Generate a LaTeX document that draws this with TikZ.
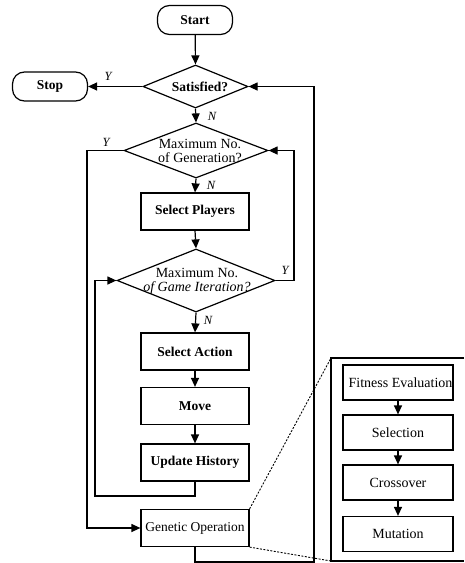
\documentclass[tikz,border=0pt]{standalone}
\usepackage{fontspec}
\setmainfont{Liberation Serif}
\usetikzlibrary{shapes.geometric,arrows.meta}
\begin{document}
\begin{tikzpicture}[x=1pt,y=-1pt,
  line width=1.2pt,
  font=\fontsize{14}{14}\selectfont,
  arr/.style={-{Triangle[length=9pt,width=8pt]}},
  term/.style={draw,rounded corners=12pt,minimum width=75pt,minimum height=29pt,inner sep=0pt,font=\fontsize{13.5}{14}\selectfont\bfseries},
  proc/.style={draw,minimum width=108pt,minimum height=37pt,inner sep=0pt,font=\fontsize{13.5}{14}\selectfont\bfseries},
  sub/.style={draw,minimum width=110pt,minimum height=35pt,inner sep=0pt},
  dia/.style={draw,diamond,inner sep=0pt},
  yn/.style={font=\fontsize{12.5}{12}\selectfont\itshape,inner sep=0pt},
  zoomline/.style={line width=0.9pt,dash pattern=on 2pt off 1.5pt}]
\useasboundingbox (0,0) rectangle (464,563);

% main flow
\node[term] (start) at (195,20) {Start};
\node[term] (stop) at (50,86.5) {Stop};
\node[dia,minimum width=105pt,minimum height=43pt] (sat) at (195.5,86.5) {};
\node[font=\fontsize{13.5}{14}\selectfont\bfseries] (satT) at (200,86.5) {Satisfied?};
\node[dia,minimum width=144pt,minimum height=55pt] (gen) at (196,150.5) {};
\node[align=center,inner sep=0pt] (genT) at (200,150.5) {Maximum No.\\of Generation?};
\node[proc] (players) at (195,211.5) {Select Players};
\node[dia,minimum width=158pt,minimum height=63pt] (game) at (196,280.5) {};
\node[align=center,inner sep=0pt] (gameT) at (197,281) {Maximum No.\\\itshape of Game Iteration?};
\node[proc] (action) at (195,351.5) {Select Action};
\node[proc] (move) at (195,406) {Move};
\node[proc] (update) at (195,462.5) {Update History};
\node[proc,font=\fontsize{13.5}{14}\selectfont] (genop) at (195,528) {Genetic Operation};

% expanded genetic operation
\draw (464,358) -- (331,358) -- (331,561) -- (464,561);
\node[sub] (fit) at (398,382.5) {};
\node (fitT) at (400.5,382.5) {Fitness Evaluation};
\node[sub] (sel) at (398,432.5) {Selection};
\node[sub] (cross) at (398,482.5) {Crossover};
\node[sub] (mut) at (398,534) {Mutation};
\coordinate (pTL) at (331,358);
\coordinate (pBL) at (331,561);

% connectors
\draw[arr] (start) -- (sat.north);
\draw[arr] (sat.west) -- (stop.east);
\draw[arr] (sat.south) -- (gen.north);
\draw[arr] (gen.south) -- (players.north);
\draw[arr] (players.south) -- (game.north);
\draw[arr] (game.south) -- (action.north);
\draw[arr] (action) -- (move);
\draw[arr] (move) -- (update);
\draw[arr] (update.south) -- (195,496) -- (95,496) -- (95,280.5) -- (game.west);
\draw[arr] (game.east) -- (294,280.5) -- (294,150.5) -- (gen.east);
\draw[arr] (gen.west) -- (87,150.5) -- (87,528) -- (genop.west);
\draw[arr] (genop.south) -- (195,562) -- (314,562) -- (314,86.5) -- (sat.east);
\draw[arr] (fit) -- (sel);
\draw[arr] (sel) -- (cross);
\draw[arr] (cross) -- (mut);
\draw[zoomline] (genop.north east) -- (pTL);
\draw[zoomline] (genop.south east) -- (pBL);

% branch labels
\node[yn] (y1) at (108,76) {Y};
\node[yn] (n1) at (212,116) {N};
\node[yn] (y2) at (106,142) {Y};
\node[yn] (n2) at (211,185) {N};
\node[yn] (y3) at (285,270) {Y};
\node[yn] (n3) at (208,320) {N};
\end{tikzpicture}
\end{document}
